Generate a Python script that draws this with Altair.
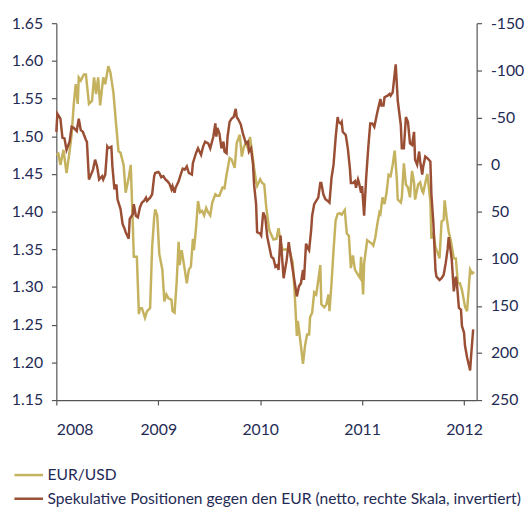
import altair as alt
import pandas as pd

# ---------------- data ----------------
eur_t = [
    2008.00, 2008.02, 2008.04, 2008.07, 2008.10, 2008.13, 2008.15, 2008.17, 2008.19, 2008.21,
    2008.22, 2008.24, 2008.27, 2008.29, 2008.32, 2008.35, 2008.37, 2008.39, 2008.41, 2008.43,
    2008.46, 2008.48, 2008.51, 2008.53, 2008.56, 2008.59, 2008.61, 2008.63, 2008.66, 2008.68,
    2008.71, 2008.73, 2008.75, 2008.76, 2008.79, 2008.81, 2008.82, 2008.84, 2008.87, 2008.89,
    2008.92, 2008.94, 2008.96, 2008.97, 2008.99, 2009.01, 2009.04, 2009.06, 2009.08, 2009.10,
    2009.13, 2009.14, 2009.16, 2009.18, 2009.20, 2009.21, 2009.23, 2009.26, 2009.28, 2009.30,
    2009.32, 2009.34, 2009.35, 2009.37, 2009.39, 2009.41, 2009.43, 2009.45, 2009.47, 2009.49,
    2009.51, 2009.53, 2009.56, 2009.58, 2009.60, 2009.63, 2009.65, 2009.67, 2009.70, 2009.72,
    2009.75, 2009.77, 2009.80, 2009.82, 2009.84, 2009.86, 2009.88, 2009.90, 2009.92, 2009.94,
    2009.96, 2009.97, 2010.00, 2010.02, 2010.04, 2010.06, 2010.09, 2010.13, 2010.16, 2010.18,
    2010.20, 2010.22, 2010.25, 2010.27, 2010.29, 2010.32, 2010.34, 2010.36, 2010.37, 2010.40,
    2010.42, 2010.44, 2010.46, 2010.48, 2010.49, 2010.51, 2010.53, 2010.55, 2010.57, 2010.59,
    2010.60, 2010.63, 2010.65, 2010.67, 2010.68, 2010.70, 2010.72, 2010.74, 2010.76, 2010.78,
    2010.80, 2010.83, 2010.85, 2010.87, 2010.89, 2010.91, 2010.93, 2010.96, 2010.98, 2010.99,
    2011.01, 2011.02, 2011.05, 2011.07, 2011.10, 2011.11, 2011.13, 2011.15, 2011.17, 2011.18,
    2011.20, 2011.22, 2011.24, 2011.26, 2011.28, 2011.30, 2011.32, 2011.34, 2011.35, 2011.38,
    2011.39, 2011.41, 2011.43, 2011.45, 2011.47, 2011.49, 2011.51, 2011.52, 2011.55, 2011.57,
    2011.59, 2011.60, 2011.62, 2011.64, 2011.67, 2011.68, 2011.70, 2011.72, 2011.75, 2011.76,
    2011.78, 2011.80, 2011.81, 2011.83, 2011.85, 2011.87, 2011.89, 2011.90, 2011.92, 2011.94,
    2011.96, 2011.98, 2012.01, 2012.03, 2012.05, 2012.06, 2012.08, 2012.10,
]
eur_v = [
    1.475, 1.477, 1.462, 1.482, 1.451, 1.480, 1.502, 1.541, 1.569, 1.543,
    1.578, 1.574, 1.582, 1.582, 1.543, 1.547, 1.578, 1.556, 1.578, 1.541,
    1.578, 1.569, 1.593, 1.585, 1.558, 1.510, 1.480, 1.478, 1.462, 1.425,
    1.445, 1.462, 1.384, 1.340, 1.340, 1.264, 1.272, 1.272, 1.259, 1.268,
    1.272, 1.353, 1.392, 1.403, 1.395, 1.344, 1.323, 1.281, 1.290, 1.285,
    1.283, 1.268, 1.266, 1.305, 1.360, 1.329, 1.349, 1.323, 1.305, 1.323,
    1.327, 1.364, 1.349, 1.377, 1.414, 1.399, 1.401, 1.395, 1.405, 1.399,
    1.395, 1.412, 1.423, 1.421, 1.421, 1.432, 1.431, 1.449, 1.471, 1.469,
    1.458, 1.491, 1.502, 1.473, 1.486, 1.491, 1.484, 1.499, 1.480, 1.458,
    1.440, 1.434, 1.443, 1.438, 1.436, 1.405, 1.375, 1.363, 1.364, 1.378,
    1.360, 1.349, 1.350, 1.349, 1.348, 1.332, 1.288, 1.235, 1.255, 1.222,
    1.198, 1.222, 1.237, 1.237, 1.260, 1.266, 1.293, 1.290, 1.309, 1.329,
    1.277, 1.273, 1.277, 1.290, 1.268, 1.305, 1.349, 1.388, 1.397, 1.398,
    1.396, 1.402, 1.371, 1.368, 1.325, 1.342, 1.323, 1.316, 1.312, 1.340,
    1.290, 1.331, 1.362, 1.360, 1.357, 1.355, 1.366, 1.384, 1.399, 1.397,
    1.419, 1.410, 1.425, 1.449, 1.447, 1.462, 1.481, 1.445, 1.416, 1.412,
    1.419, 1.464, 1.436, 1.432, 1.419, 1.454, 1.438, 1.416, 1.436, 1.439,
    1.427, 1.425, 1.438, 1.450, 1.414, 1.364, 1.373, 1.353, 1.342, 1.338,
    1.387, 1.389, 1.415, 1.392, 1.373, 1.362, 1.346, 1.338, 1.338, 1.305,
    1.305, 1.296, 1.274, 1.268, 1.305, 1.323, 1.318, 1.320,
]

pos_t = [
    2008.00, 2008.01, 2008.04, 2008.06, 2008.08, 2008.10, 2008.13, 2008.15, 2008.17, 2008.20,
    2008.22, 2008.24, 2008.26, 2008.29, 2008.30, 2008.32, 2008.34, 2008.36, 2008.38, 2008.40,
    2008.42, 2008.45, 2008.46, 2008.48, 2008.50, 2008.51, 2008.54, 2008.55, 2008.57, 2008.59,
    2008.60, 2008.63, 2008.65, 2008.67, 2008.68, 2008.71, 2008.72, 2008.75, 2008.76, 2008.78,
    2008.80, 2008.82, 2008.84, 2008.86, 2008.88, 2008.89, 2008.92, 2008.94, 2008.96, 2008.97,
    2009.00, 2009.01, 2009.03, 2009.05, 2009.07, 2009.09, 2009.11, 2009.13, 2009.14, 2009.16,
    2009.17, 2009.20, 2009.22, 2009.24, 2009.26, 2009.28, 2009.30, 2009.33, 2009.34, 2009.36,
    2009.37, 2009.39, 2009.42, 2009.44, 2009.46, 2009.49, 2009.51, 2009.54, 2009.56, 2009.57,
    2009.58, 2009.60, 2009.62, 2009.64, 2009.65, 2009.67, 2009.68, 2009.70, 2009.72, 2009.74,
    2009.76, 2009.77, 2009.79, 2009.81, 2009.83, 2009.84, 2009.86, 2009.88, 2009.89, 2009.91,
    2009.93, 2009.94, 2009.96, 2009.97, 2010.00, 2010.01, 2010.03, 2010.05, 2010.07, 2010.09,
    2010.11, 2010.13, 2010.15, 2010.17, 2010.18, 2010.20, 2010.21, 2010.23, 2010.26, 2010.28,
    2010.30, 2010.32, 2010.34, 2010.36, 2010.38, 2010.40, 2010.42, 2010.43, 2010.45, 2010.47,
    2010.48, 2010.50, 2010.51, 2010.53, 2010.55, 2010.57, 2010.59, 2010.60, 2010.62, 2010.64,
    2010.67, 2010.68, 2010.70, 2010.72, 2010.74, 2010.76, 2010.77, 2010.79, 2010.80, 2010.81,
    2010.84, 2010.86, 2010.88, 2010.89, 2010.91, 2010.93, 2010.94, 2010.96, 2010.97, 2010.99,
    2011.00, 2011.02, 2011.04, 2011.06, 2011.08, 2011.10, 2011.12, 2011.14, 2011.15, 2011.18,
    2011.19, 2011.21, 2011.22, 2011.25, 2011.27, 2011.28, 2011.30, 2011.33, 2011.35, 2011.38,
    2011.39, 2011.41, 2011.43, 2011.45, 2011.47, 2011.49, 2011.51, 2011.52, 2011.54, 2011.56,
    2011.57, 2011.59, 2011.60, 2011.62, 2011.64, 2011.67, 2011.68, 2011.70, 2011.72, 2011.73,
    2011.76, 2011.78, 2011.80, 2011.82, 2011.84, 2011.85, 2011.87, 2011.88, 2011.90, 2011.92,
    2011.93, 2011.95, 2011.97, 2011.98, 2012.00, 2012.01, 2012.03, 2012.06, 2012.07, 2012.09,
]
pos_v = [
    -34.7, -53.9, -48.7, -28.4, -27.7, -15.5, -24.2, -40.0, -38.9, -35.5,
    -48.7, -36.5, -34.7, -26.0, -24.2, 15.9, 10.7, 5.4, -5.1, 2.0,
    15.9, 12.4, 15.9, 10.7, -19.0, -17.3, -19.0, 2.0, 26.4, 21.2,
    36.9, 47.3, 63.0, 68.3, 71.8, 78.8, 57.8, 52.6, 42.1, 54.4,
    56.1, 45.6, 40.4, 38.6, 35.2, 38.6, 35.2, 31.6, 12.4, 9.0,
    7.9, 9.0, 13.5, 12.4, 15.9, 17.7, 20.5, 26.4, 22.9, 29.9,
    24.7, 17.7, 10.7, 4.4, 5.4, 2.0, 9.0, 10.7, -1.5, -8.5,
    -12.0, -17.2, -10.3, -19.0, -24.2, -22.5, -17.2, -29.5, -43.6, -29.5,
    -38.9, -33.0, -17.2, -24.2, -13.8, -12.0, -29.5, -45.2, -48.7, -50.4,
    -59.1, -50.4, -47.0, -42.4, -33.0, -29.5, -22.5, -24.2, -13.8, -17.2,
    0.2, 21.1, 42.1, 71.8, 73.5, 75.3, 50.9, 56.1, 77.0, 87.6,
    98.0, 99.7, 108.5, 106.8, 112.0, 75.3, 91.0, 120.7, 101.5, 82.3,
    98.0, 112.0, 126.0, 140.0, 129.5, 126.0, 112.0, 122.5, 84.0, 89.3,
    91.0, 70.0, 54.4, 42.1, 38.6, 35.2, 19.5, 19.5, 31.6, 36.9,
    39.3, 40.4, 14.2, 0.2, -27.7, -50.4, -45.2, -43.4, -45.2, -34.7,
    -31.2, -17.2, 3.7, 19.5, 19.5, 17.7, 24.7, 15.9, 19.5, 29.9,
    22.9, 54.4, 14.2, -17.2, -43.6, -43.6, -40.0, -50.4, -55.7, -69.6,
    -62.7, -62.7, -71.4, -73.1, -74.9, -73.1, -76.6, -106.3, -67.9, -41.7,
    -17.2, -17.2, -50.4, -45.2, -22.5, -20.8, -34.7, -5.1, 0.2, -13.8,
    -3.3, 10.7, 2.0, -8.5, -6.8, -3.3, 31.6, 63.0, 112.0, 119.0,
    122.5, 120.7, 117.2, 105.0, 89.3, 77.0, 92.8, 101.5, 134.7, 119.0,
    126.0, 152.1, 153.9, 171.4, 178.3, 192.4, 204.6, 218.6, 202.9, 174.9,
]

series_names = ["EUR/USD",
                "Spekulative Positionen gegen den EUR (netto, rechte Skala, invertiert)"]
x_ticks = [2008, 2009, 2010, 2011, 2012]
left_ticks = [1.15, 1.20, 1.25, 1.30, 1.35, 1.40, 1.45, 1.50, 1.55, 1.60, 1.65]
right_ticks = [-150, -100, -50, 0, 50, 100, 150, 200, 250]

# ---------------- style ----------------
KHAKI = "#c5b25f"
BROWN = "#9a4f35"
NAVY = "#1f2b55"
AXIS = "#555555"
FONT = "Lato"

df1 = pd.DataFrame({"t": eur_t, "v": eur_v, "s": series_names[0]})
df2 = pd.DataFrame({"t": pos_t, "w": pos_v, "s": series_names[1]})

color = alt.Color(
    "s:N",
    scale=alt.Scale(domain=series_names, range=[KHAKI, BROWN]),
    legend=alt.Legend(
        title=None, orient="none", legendX=-44, legendY=442, direction="vertical",
        symbolType="stroke", symbolSize=841, symbolStrokeWidth=2.5,
        labelFont=FONT, labelFontSize=15.8, labelColor=NAVY, labelOffset=3,
        labelLimit=700, rowPadding=-3, padding=0,
    ),
)

x = alt.X(
    "t:Q",
    scale=alt.Scale(domain=[2008, 2012.124], nice=False, zero=False),
    axis=alt.Axis(values=x_ticks, format="d", title=None, labelPadding=17),
)

left = alt.Chart(df1).mark_line(strokeWidth=2.5).encode(
    x=x,
    y=alt.Y("v:Q", scale=alt.Scale(domain=[1.15, 1.65], nice=False, zero=False),
            axis=alt.Axis(orient="left", values=left_ticks, format=".2f", title=None,
                          labelPadding=9)),
    color=color,
)

right = alt.Chart(df2).mark_line(strokeWidth=2.5).encode(
    x=x,
    y=alt.Y("w:Q", scale=alt.Scale(domain=[-150, 250], reverse=True, nice=False, zero=False),
            axis=alt.Axis(orient="right", values=right_ticks, title=None,
                          labelExpr="'' + datum.value", labelPadding=9)),
    color=color,
)

chart = (
    alt.layer(left, right)
    .resolve_scale(y="independent")
    .properties(
        width=426, height=382,
        autosize=alt.AutoSizeParams(type="none"),
        padding={"left": 49, "top": 12, "right": 48, "bottom": 106},
    )
    .configure_view(stroke=None)
    .configure_axis(
        grid=False, domainColor=AXIS, tickColor=AXIS, tickSize=5, domainWidth=1.2,
        tickWidth=1.2, labelFont=FONT, labelFontSize=16, labelColor=NAVY,
    )
)

chart.save("out.html", embed_options={"renderer": "svg", "actions": False})
